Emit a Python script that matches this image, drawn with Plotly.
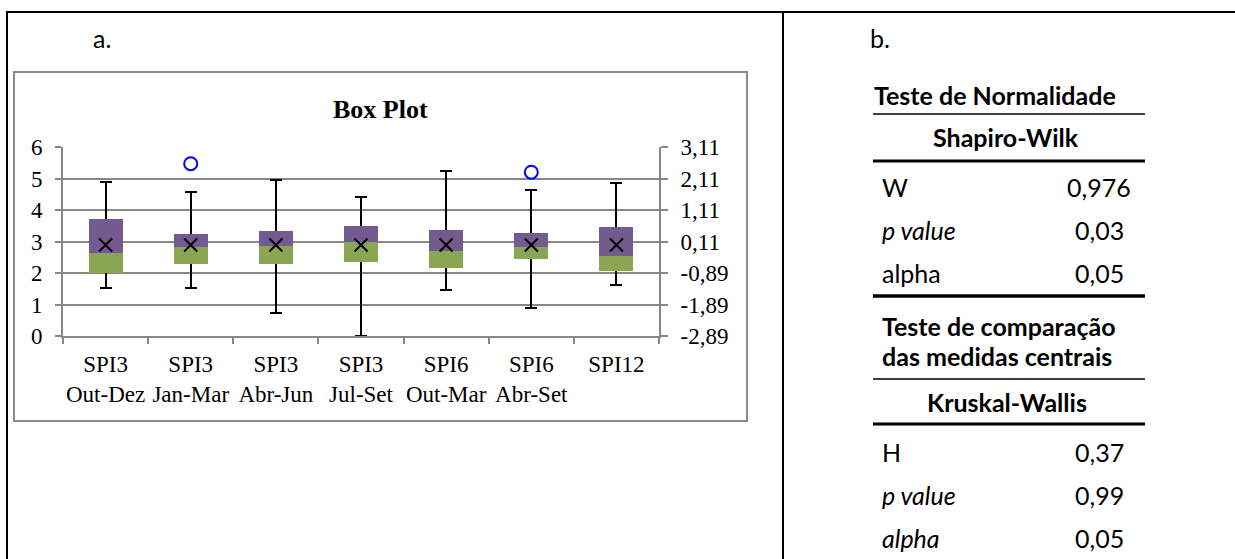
import plotly.graph_objects as go

W, H = 1235, 559

categories = ["SPI3<br>Out-Dez", "SPI3<br>Jan-Mar", "SPI3<br>Abr-Jun", "SPI3<br>Jul-Set",
              "SPI6<br>Out-Mar", "SPI6<br>Abr-Set", "SPI12"]
whisker_max = [4.89, 4.58, 4.95, 4.40, 5.23, 4.62, 4.85]
q3 = [3.72, 3.24, 3.32, 3.48, 3.38, 3.27, 3.46]
median = [2.62, 2.84, 2.87, 2.98, 2.70, 2.82, 2.54]
q1 = [2.01, 2.30, 2.30, 2.36, 2.17, 2.46, 2.07]
whisker_min = [1.51, 1.53, 0.74, 0.00, 1.45, 0.89, 1.63]
means = [2.89, 2.89, 2.89, 2.89, 2.89, 2.89, 2.89]
outlier_cats = ["SPI3<br>Jan-Mar", "SPI6<br>Abr-Set"]
outlier_vals = [5.47, 5.20]

left_ticks = [0, 1, 2, 3, 4, 5, 6]
right_ticks = [-2.89, -1.89, -0.89, 0.11, 1.11, 2.11, 3.11]
right_ticktext = ["-2,89", "-1,89", "-0,89", "0,11", "1,11", "2,11", "3,11"]

normal_rows = [("W", "0,976", False), ("p value", "0,03", True), ("alpha", "0,05", False)]
kw_rows = [("H", "0,37", False), ("p value", "0,99", True), ("alpha", "0,05", True)]

PURPLE = "#735B8F"
GREEN = "#8AA652"
GRID = "#878787"
SERIF = "Liberation Serif"
SANS = "Lato"
TS = 23   # serif tick size
SS = 25   # table text size

def px(x):
    return x / W

def py(y):
    return 1 - y / H

fig = go.Figure()

# whiskers (drawn behind the boxes)
fig.add_trace(go.Bar(
    x=categories, y=median, base=0, width=0.4,
    marker=dict(color="rgba(0,0,0,0)", line=dict(width=0)),
    error_y=dict(type="data", symmetric=False,
                 array=[a - m for a, m in zip(whisker_max, median)],
                 arrayminus=[m - b for m, b in zip(median, whisker_min)],
                 color="black", thickness=2, width=6),
    hoverinfo="skip", showlegend=False))
# lower box part (q1 -> median)
fig.add_trace(go.Bar(
    x=categories, y=[m - a for m, a in zip(median, q1)], base=q1, width=0.4,
    marker=dict(color=GREEN, line=dict(width=0)), showlegend=False))
# upper box part (median -> q3)
fig.add_trace(go.Bar(
    x=categories, y=[b - m for b, m in zip(q3, median)], base=median, width=0.4,
    marker=dict(color=PURPLE, line=dict(width=0)), showlegend=False))
# means
fig.add_trace(go.Scatter(
    x=categories, y=means, mode="markers",
    marker=dict(symbol="x-thin", size=13, line=dict(color="black", width=2)),
    showlegend=False))
# outliers
fig.add_trace(go.Scatter(
    x=outlier_cats, y=outlier_vals, mode="markers",
    marker=dict(symbol="circle-open", size=13, color="#0000FF", line=dict(width=2)),
    showlegend=False))
# right axis carrier
fig.add_trace(go.Scatter(x=[categories[0]], y=[None], yaxis="y2", mode="markers",
                         showlegend=False, hoverinfo="skip"))

x0p, x1p = 63, 659
ytop, ybot = 147, 336

fig.update_layout(
    width=W, height=H, margin=dict(l=0, r=0, t=0, b=0, autoexpand=False),
    paper_bgcolor="white", plot_bgcolor="white",
    barmode="overlay", bargap=0,
    xaxis=dict(domain=[px(x0p), px(x1p)], type="category", range=[-0.5, 6.5],
               tickson="boundaries", ticks="outside", ticklen=6, tickcolor=GRID,
               tickwidth=2, showline=True, linecolor=GRID, linewidth=2,
               showgrid=False, zeroline=False, fixedrange=True, tickangle=0,
               tickfont=dict(family=SERIF, size=TS, color="black"),
               ticklabelstandoff=6),
    yaxis=dict(domain=[py(ybot), py(ytop)], range=[0, 6], tickvals=left_ticks,
               ticks="outside", ticklen=6, tickcolor=GRID, tickwidth=2,
               showline=True, linecolor=GRID, linewidth=2,
               showgrid=True, gridcolor=GRID, gridwidth=2, zeroline=False,
               tickfont=dict(family=SERIF, size=TS, color="black"),
               ticklabelstandoff=8),
    yaxis2=dict(overlaying="y", side="right", range=[-2.89, 3.11],
                tickvals=right_ticks, ticktext=right_ticktext,
                ticks="outside", ticklen=7, tickcolor=GRID, tickwidth=2,
                showline=True, linecolor=GRID, linewidth=2,
                showgrid=False, zeroline=False,
                tickfont=dict(family=SERIF, size=TS, color="black"),
                ticklabelstandoff=8),
)

shapes = []
# outer frame lines
shapes.append(dict(type="line", xref="paper", yref="paper", x0=px(6), x1=1, y0=py(12), y1=py(12),
                   line=dict(color="black", width=2)))
shapes.append(dict(type="line", xref="paper", yref="paper", x0=px(7), x1=px(7), y0=py(12), y1=0,
                   line=dict(color="black", width=2)))
shapes.append(dict(type="line", xref="paper", yref="paper", x0=px(783), x1=px(783), y0=py(12), y1=0,
                   line=dict(color="black", width=2)))
# chart frame
shapes.append(dict(type="rect", xref="paper", yref="paper", x0=px(14), x1=px(747), y0=py(72), y1=py(421),
                   line=dict(color="#8C8C8C", width=2), layer="below"))
# table lines
tl, tr = 873, 1145
for yy, wdt in [(114, 1.5), (161, 3), (296, 3.5), (379, 1.5), (424, 3)]:
    shapes.append(dict(type="line", xref="paper", yref="paper", x0=px(tl), x1=px(tr), y0=py(yy), y1=py(yy),
                       line=dict(color="black", width=wdt)))
fig.update_layout(shapes=shapes)

ann = []
def text(x, y, s, size=SS, xanchor="left", bold=False, italic=False, family=SANS):
    if bold:
        s = "<b>" + s + "</b>"
    if italic:
        s = "<i>" + s + "</i>"
    ann.append(dict(x=px(x), y=py(y), xref="paper", yref="paper", text=s, showarrow=False,
                    xanchor=xanchor, yanchor="middle", font=dict(family=family, size=size, color="black")))

text(91, 38, "a.")
text(868, 38, "b.")
text(380, 110, "Box Plot", size=26, xanchor="center", bold=True, family=SERIF)

text(872, 95, "Teste de Normalidade", bold=True)
text(1006, 137, "Shapiro-Wilk", xanchor="center", bold=True)
for i, (lab, val, it) in enumerate(normal_rows):
    yy = 187 + i * 43
    text(880, yy, lab, italic=it)
    text(1099, yy, val, xanchor="center")

text(880, 326, "Teste de comparação", bold=True)
text(880, 356, "das medidas centrais", bold=True)
text(1007, 402, "Kruskal-Wallis", xanchor="center", bold=True)
for i, (lab, val, it) in enumerate(kw_rows):
    yy = 452 + i * 43
    text(880, yy, lab, italic=it)
    text(1099, yy, val, xanchor="center")

fig.update_layout(annotations=ann)
post = ("document.body.style.margin='0';document.body.style.padding='0';"
        "document.documentElement.style.overflow='hidden';"
        "var d=document.getElementById('{plot_id}');if(d&&d.parentElement){d.parentElement.style.margin='0';}")
fig.write_html("out.html", post_script=post, config={"displayModeBar": False})
